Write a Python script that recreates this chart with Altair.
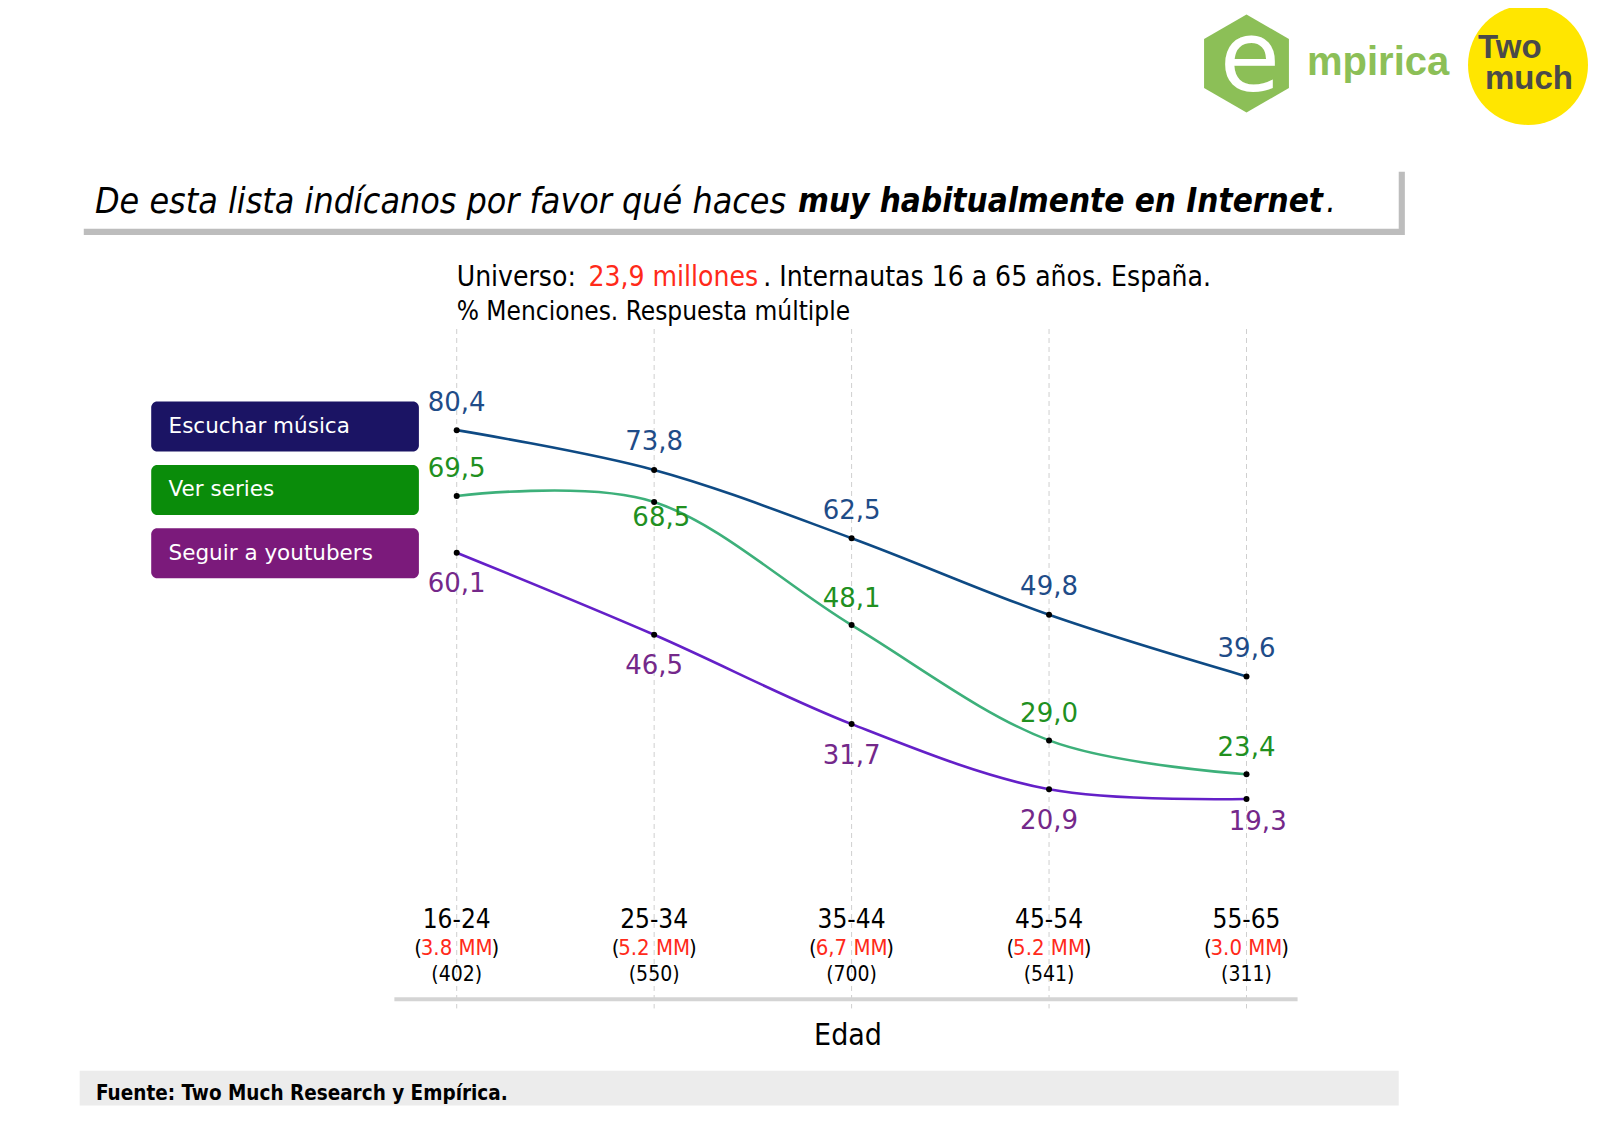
import altair as alt
import pandas as pd

# ---------------- data ----------------
edades = ["16-24", "25-34", "35-44", "45-54", "55-65"]
millones = ["3.8 MM", "5.2 MM", "6,7 MM", "5.2 MM", "3.0 MM"]
muestras = ["(402)", "(550)", "(700)", "(541)", "(311)"]
series = ["Escuchar música", "Ver series", "Seguir a youtubers"]
escuchar_musica = [80.4, 73.8, 62.5, 49.8, 39.6]
ver_series = [69.5, 68.5, 48.1, 29.0, 23.4]
seguir_youtubers = [60.1, 46.5, 31.7, 20.9, 19.3]

titulo_normal = "De esta lista indícanos por favor qué haces"
titulo_negrita = "muy habitualmente en Internet"
sub1 = ["Universo: ", "23,9 millones", ". Internautas 16 a 65 años. España."]
sub2 = "% Menciones. Respuesta múltiple"
eje_titulo = "Edad"
fuente = "Fuente: Two Much Research y Empírica."

line_colors = ["#0e4a84", "#3db07a", "#6420c8"]
label_colors = ["#1f4c88", "#21901f", "#74288a"]
box_colors = ["#1b1464", "#0a8c0a", "#7b1a7b"]

rows = []
for s, vals in zip(series, [escuchar_musica, ver_series, seguir_youtubers]):
    for i, (e, v) in enumerate(zip(edades, vals)):
        rows.append(dict(serie=s, i=i, edad=e, v=v,
                         label=f"{v:.1f}".replace(".", ",")))
df = pd.DataFrame(rows)
ax = pd.DataFrame(dict(i=list(range(len(edades))), edad=edades, mm=millones, n=muestras))
one = pd.DataFrame({"a": [0]})

S = 0.97875  # layout measured on a 1566-wide view of the 1600-wide page


def px(d):
    return d / S - 8


def sz(d):
    return d / S


FC = "DejaVu Sans Condensed, DejaVu Sans"
FD = "DejaVu Sans"

xs = alt.Scale(domain=[0, 4], range=[px(447), px(1220)])
ys = alt.Scale(domain=[0, 100], range=[px(896), px(305.2)])
X = alt.X("i:Q", scale=xs, axis=None)
Y = alt.Y("v:Q", scale=ys, axis=None)

layers = []


def rect(x, x2, y, y2, color, r=0):
    return alt.Chart(one).mark_rect(color=color, cornerRadius=r).encode(
        x=alt.value(px(x)), x2=alt.value(px(x2)), y=alt.value(px(y)), y2=alt.value(px(y2)))


def txt(text, x, y, size, color="#000000", font=FC, weight="normal",
        style="normal", align="left", baseline="middle"):
    return alt.Chart(one).mark_text(
        text=text, fontSize=size, color=color, font=font, fontWeight=weight,
        fontStyle=style, align=align, baseline=baseline).encode(
        x=alt.value(px(x)), y=alt.value(px(y)))


# ---- logos ----
hexagon = "M0,-1L0.866,-0.5L0.866,0.5L0,1L-0.866,0.5L-0.866,-0.5Z"
layers.append(alt.Chart(one).mark_point(shape=hexagon, size=98 * 98, filled=True,
                                        color="#8cbf57", opacity=1).encode(
    x=alt.value(1238.5), y=alt.value(55.5)))
layers.append(alt.Chart(one).mark_text(text="e", fontSize=98, color="#ffffff",
                                       font=FD, align="center", baseline="alphabetic").encode(
    x=alt.value(1242), y=alt.value(83)))
layers.append(alt.Chart(one).mark_text(text="mpirica", fontSize=40, color="#8cbf57",
                                       font="Liberation Sans", fontWeight="bold",
                                       align="left", baseline="alphabetic").encode(
    x=alt.value(1299), y=alt.value(67)))
layers.append(alt.Chart(one).mark_point(shape="circle", size=120 * 120, filled=True,
                                        color="#ffe600", opacity=1).encode(
    x=alt.value(1520), y=alt.value(57)))
layers.append(alt.Chart(one).mark_text(text="Two", fontSize=33, color="#4a4a4a",
                                       font="Liberation Sans", fontWeight="bold",
                                       align="left", baseline="alphabetic").encode(
    x=alt.value(1470), y=alt.value(50)))
layers.append(alt.Chart(one).mark_text(text="much", fontSize=33, color="#4a4a4a",
                                       font="Liberation Sans", fontWeight="bold",
                                       align="left", baseline="alphabetic").encode(
    x=alt.value(1477), y=alt.value(81)))

# ---- title box ----
layers.append(rect(82, 1375, 168, 230, "#bdbdbd"))
layers.append(rect(70, 1369, 156, 224, "#ffffff"))
layers.append(txt(titulo_normal, 93, 198, 35.5, style="italic"))
layers.append(txt(titulo_negrita, 781, 198, 33, weight="bold", style="italic"))
layers.append(txt(".", 1298, 198, 33, style="italic"))

# ---- subtitle ----
layers.append(txt(sub1[0], 447, 272, 28))
layers.append(txt(sub1[1], 576, 272, 28, "#ff2a1a"))
layers.append(txt(sub1[2], 747, 272, 28))
layers.append(txt(sub2, 447, 305, 26))

# ---- grid lines ----
layers.append(alt.Chart(ax).mark_rule(color="#cfcfcf", strokeDash=[5, 4], strokeWidth=1).encode(
    x=X, y=alt.value(px(322)), y2=alt.value(px(987))))
# bottom line
layers.append(rect(386, 1270, 976, 980, "#d4d4d4"))

# ---- legend ----
for k, s in enumerate(series):
    y0 = 393 + k * 62
    layers.append(rect(148, 410, y0, y0 + 49, box_colors[k], 6))
    layers.append(txt(s, 165, y0 + 25, 21.5, "#ffffff", FD))

# ---- lines & points ----
layers.append(alt.Chart(df).mark_line(interpolate="cardinal", strokeWidth=2.6).encode(
    x=X, y=Y,
    color=alt.Color("serie:N", scale=alt.Scale(domain=series, range=line_colors), legend=None),
    detail="serie:N"))
layers.append(alt.Chart(df).mark_circle(size=36, color="#000000", opacity=1).encode(x=X, y=Y))


# ---- value labels ----
def vlabels(s, color, cond, dx, dy):
    return alt.Chart(df).transform_filter(
        f"datum.serie == '{s}' && ({cond})").mark_text(
        font=FD, fontSize=26, color=color, align="center", baseline="middle",
        dx=sz(dx), dy=sz(dy)).encode(x=X, y=Y, text="label:N")


layers.append(vlabels(series[0], label_colors[0], "true", 0, -27))
layers.append(vlabels(series[1], label_colors[1], "datum.i != 1", 0, -26))
layers.append(vlabels(series[1], label_colors[1], "datum.i == 1", 7, 16))
layers.append(vlabels(series[2], label_colors[2], "datum.i != 4", 0, 31))
layers.append(vlabels(series[2], label_colors[2], "datum.i == 4", 11, 23))

# ---- x labels ----
base_ax = alt.Chart(ax)
layers.append(base_ax.mark_text(font=FC, fontSize=26, color="#000000", align="center",
                                baseline="middle").encode(x=X, y=alt.value(px(900)), text="edad:N"))
layers.append(base_ax.mark_text(font=FC, fontSize=22, color="#ff2a1a", align="center",
                                baseline="middle").encode(x=X, y=alt.value(px(928)), text="mm:N"))
layers.append(base_ax.mark_text(font=FC, fontSize=22, color="#000000", align="right",
                                baseline="middle", dx=sz(-34), text="(").encode(x=X, y=alt.value(px(928))))
layers.append(base_ax.mark_text(font=FC, fontSize=22, color="#000000", align="left",
                                baseline="middle", dx=sz(34), text=")").encode(x=X, y=alt.value(px(928))))
layers.append(base_ax.mark_text(font=FC, fontSize=21, color="#000000", align="center",
                                baseline="middle").encode(x=X, y=alt.value(px(954)), text="n:N"))
layers.append(txt(eje_titulo, 830, 1014, 30, align="center"))

# ---- footer ----
layers.append(rect(78, 1369, 1048, 1082, "#ececec"))
layers.append(txt(fuente, 94, 1071, 20.5, weight="bold"))

chart = alt.layer(*layers).properties(
    width=1584, height=1129, padding=0,
    autosize=alt.AutoSizeParams(type="none"),
    background="#ffffff",
).configure_view(stroke=None)

chart.save("out.html", embed_options={"renderer": "svg", "actions": False})
